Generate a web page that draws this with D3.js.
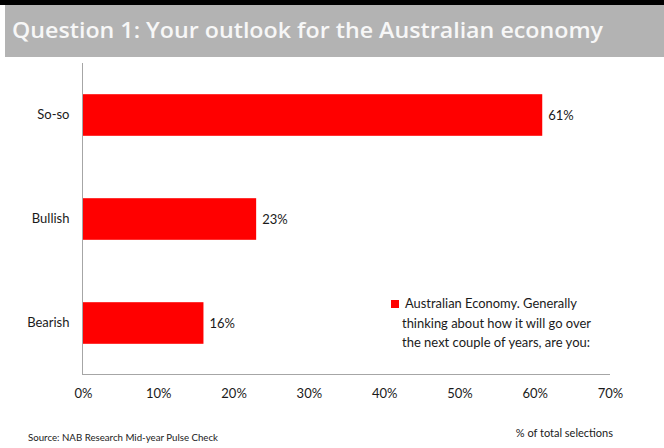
<!DOCTYPE html>
<html>
<head>
<meta charset="utf-8">
<script src="https://cdn.jsdelivr.net/npm/d3@7/dist/d3.min.js"></script>
<style>
  html, body { margin: 0; padding: 0; background: #fff; }
  svg { display: block; }
  text { font-family: Lato, "Open Sans", sans-serif; fill: #1a1a1a; }
</style>
</head>
<body>
<svg id="chart" width="664" height="448"></svg>
<script>
// Survey answers, percent of total selections
const categories = ["So-so", "Bullish", "Bearish"];
const values = [61, 23, 16];
const xTicks = [0, 10, 20, 30, 40, 50, 60, 70];
const titleText = "Question 1: Your outlook for the Australian economy";
const legendLines = [
  "Australian Economy. Generally",
  "thinking about how it will go over",
  "the next couple of years, are you:"
];
const sourceText = "Source:  NAB Research Mid-year Pulse Check";
const unitText = "% of total selections";

const svg = d3.select("#chart");
const W = 664, H = 448;
const plot = { left: 83, right: 610, top: 63, bottom: 375 };

// Header band
svg.append("rect").attr("x", 0).attr("y", 0).attr("width", W).attr("height", 5).attr("fill", "#000");
svg.append("rect").attr("x", 5).attr("y", 5).attr("width", W - 5).attr("height", 52).attr("fill", "#b3b3b3");
svg.append("text")
  .attr("x", 12).attr("y", 38)
  .attr("textLength", 591).attr("lengthAdjust", "spacingAndGlyphs")
  .style("font-family", "'Open Sans', sans-serif")
  .style("font-size", "22px").style("font-weight", 600).style("fill", "#f7f7f7")
  .text(titleText);

const x = d3.scaleLinear().domain([0, 70]).range([plot.left, plot.right]);
const y = d3.scaleBand().domain(categories).range([plot.top, plot.bottom]).paddingInner(0.6).paddingOuter(0.3);

// Bars
svg.append("g").selectAll("rect")
  .data(categories)
  .join("rect")
  .attr("x", x(0))
  .attr("y", d => y(d))
  .attr("width", (d, i) => x(values[i]) - x(0))
  .attr("height", y.bandwidth())
  .attr("fill", "#ff0000");

// Value labels
svg.append("g").selectAll("text")
  .data(categories)
  .join("text")
  .attr("x", (d, i) => x(values[i]) + 6)
  .attr("y", d => y(d) + y.bandwidth() / 2)
  .attr("dy", "0.35em")
  .style("font-size", "13px")
  .text((d, i) => values[i] + "%");

// Category axis
const yAxis = svg.append("g")
  .attr("transform", `translate(${plot.left - 0.5},0)`)
  .call(d3.axisLeft(y).tickSize(0).tickPadding(13));
yAxis.select(".domain").attr("stroke", "#a6a6a6").attr("d", `M0,${plot.top}V${plot.bottom}`);
yAxis.selectAll("text").style("font-size", "13px").style("font-family", "Lato, sans-serif").attr("fill", "#1a1a1a");

// Bottom rule
svg.append("line")
  .attr("x1", plot.left - 1).attr("x2", plot.right)
  .attr("y1", plot.bottom - 0.5).attr("y2", plot.bottom - 0.5)
  .attr("stroke", "#a6a6a6");

// Percent axis labels
const xAxis = svg.append("g")
  .attr("transform", `translate(0,${plot.bottom})`)
  .call(d3.axisBottom(x).tickValues(xTicks).tickSize(0).tickPadding(14).tickFormat(d => d + "%"));
xAxis.select(".domain").remove();
xAxis.selectAll("text").style("font-size", "13px").style("font-family", "Lato, sans-serif").attr("fill", "#1a1a1a");

// Legend
const legendWidths = [172, 189, 188];
const leg = svg.append("g");
leg.append("rect").attr("x", 391).attr("y", 300).attr("width", 8).attr("height", 8).attr("fill", "#ff0000");
leg.selectAll("text")
  .data(legendLines)
  .join("text")
  .attr("x", (d, i) => i === 0 ? 405 : 402)
  .attr("y", (d, i) => 308 + i * 19.5)
  .attr("textLength", (d, i) => legendWidths[i])
  .attr("lengthAdjust", "spacingAndGlyphs")
  .style("font-size", "14px")
  .text(d => d);

// Footer
svg.append("text").attr("x", 28).attr("y", 441)
  .attr("textLength", 190).attr("lengthAdjust", "spacingAndGlyphs")
  .style("font-size", "10px").text(sourceText);
svg.append("text").attr("x", 613).attr("y", 437).attr("text-anchor", "end").style("font-size", "11px").text(unitText);
</script>
</body>
</html>
